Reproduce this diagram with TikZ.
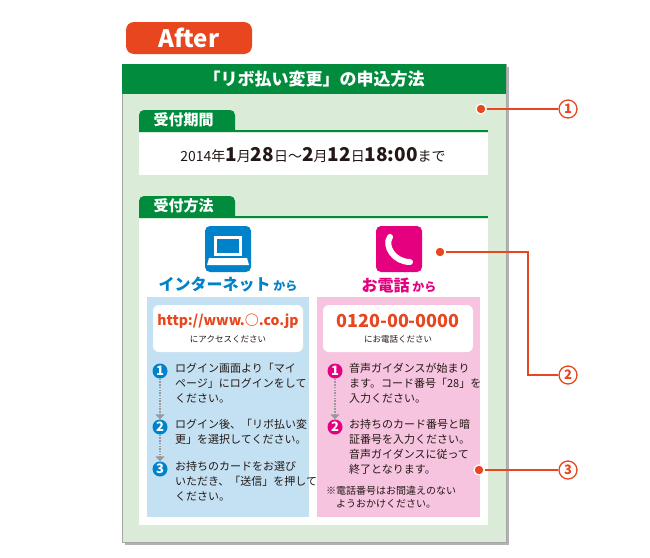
\documentclass[tikz,border=0pt]{standalone}
\usepackage{fontspec}
\setmainfont{Noto Sans CJK JP}
\newfontfamily\jpb{Noto Sans CJK JP Black}
\usetikzlibrary{arrows.meta}
\definecolor{grn}{HTML}{008C3C}
\definecolor{lgrn}{HTML}{DAEBD8}
\definecolor{ored}{HTML}{E8461E}
\definecolor{blu}{HTML}{0082CA}
\definecolor{lblu}{HTML}{C4E1F3}
\definecolor{mag}{HTML}{E4007F}
\definecolor{lpink}{HTML}{F7C4DF}
\definecolor{txt}{HTML}{231815}
\begin{document}
\begin{tikzpicture}[x=1pt,y=-1pt,
  tab/.style={fill=grn,rounded corners=5pt},
  stepnum/.style={circle,inner sep=0pt,minimum size=15pt,text=white,font=\jpb\fontsize{13}{13}\selectfont},
  steptxt/.style={anchor=north west,align=left,text=txt,font=\fontsize{11}{15}\selectfont,inner sep=0pt},
  callout/.style={circle,draw=ored,line width=1.3pt,inner sep=0pt,minimum size=18pt,text=ored,font=\jpb\fontsize{13}{13}\selectfont},
  dotm/.style={circle,fill=ored,draw=white,line width=1.2pt,inner sep=0pt,minimum size=10pt},
  lead/.style={draw=ored,line width=1.5pt},
  flow/.style={draw=gray!80,line width=2.5pt,dash pattern=on 1.5pt off 1.2pt,-{Triangle[length=5pt,width=9pt]}}]
\useasboundingbox (0,0) rectangle (650,557);
% After badge
\node[fill=ored,rounded corners=8pt,minimum width=126pt,minimum height=32pt,text=white,font=\jpb\fontsize{24}{24}\selectfont] (after) at (189,38) {After};
% panel
\fill[gray!60] (125,67) rectangle (509,545);
\draw[gray!70,fill=lgrn] (122,64) rectangle (506,542);
\fill[grn] (122,64) rectangle (506,94);
\node[text=white,font=\jpb\fontsize{17}{17}\selectfont] (title) at (314,79) {「リボ払い変更」の申込方法};
% period
\fill[tab] (139,110) rectangle (235,140);
\fill[lgrn] (137,131) rectangle (240,145);
\node[text=white,font=\jpb\fontsize{15}{15}\selectfont,anchor=west] (t1) at (150,120) {受付期間};
\fill[grn] (139,130) rectangle (488,132);
\fill[white] (139,133) rectangle (488,175);
\node[text=txt,font=\fontsize{14}{14}\selectfont] (period) at (313,155) {2014年{\jpb\fontsize{19}{19}\selectfont 1}月{\jpb\fontsize{19}{19}\selectfont 28}日～{\jpb\fontsize{19}{19}\selectfont 2}月{\jpb\fontsize{19}{19}\selectfont 12}日{\jpb\fontsize{19}{19}\selectfont 18:00}まで};
% method
\fill[tab] (139,196) rectangle (235,226);
\fill[lgrn] (137,217) rectangle (240,230);
\node[text=white,font=\jpb\fontsize{15}{15}\selectfont,anchor=west] (t2) at (150,206) {受付方法};
\fill[grn] (139,216) rectangle (488,218);
\fill[white] (139,219) rectangle (488,525);
% icons
\node[fill=blu,rounded corners=5pt,minimum size=46pt] (pc) at (228,249) {};
\fill[white] (214,236) rectangle (242,256);
\fill[blu] (217,239) rectangle (239,253);
\fill[white] (209,258) -- (247,258) -- (249,265) -- (207,265) -- cycle;
\node[fill=mag,rounded corners=5pt,minimum size=46pt] (tel) at (399,249) {};
\draw[white,line width=6pt,line cap=round] (390,237) .. controls (384,246) and (394,262) .. (410,262);
% headings
\node[text=blu,font=\jpb\fontsize{16}{16}\selectfont] (net) at (228,285) {インターネット{\fontsize{12}{12}\selectfont\ から}};
\node[text=mag,font=\jpb\fontsize{16}{16}\selectfont] (phn) at (399,285) {お電話{\fontsize{12}{12}\selectfont\ から}};
% boxes
\fill[lblu] (147,297) rectangle (309,517);
\fill[lpink] (317,297) rectangle (480,517);
\fill[white,rounded corners=6pt] (153,305) rectangle (303,352);
\fill[white,rounded corners=6pt] (323,305) rectangle (473,352);
\node[text=ored,font=\jpb\fontsize{14}{14}\selectfont] (url) at (228,321) {http://www.○.co.jp};
\node[text=txt,font=\fontsize{8.5}{8.5}\selectfont] (urla) at (228,339) {にアクセスください};
\node[text=ored,font=\jpb\fontsize{18}{18}\selectfont] (num) at (398,321) {0120-00-0000};
\node[text=txt,font=\fontsize{8.5}{8.5}\selectfont] (numa) at (398,339) {にお電話ください};
% internet steps
\node[stepnum,fill=blu] (n1) at (160,371) {1};
\node[stepnum,fill=blu] (n2) at (160,427) {2};
\node[stepnum,fill=blu] (n3) at (160,469) {3};
\draw[flow] (n1) -- (n2);
\draw[flow] (n2) -- (n3);
\node[steptxt] (s1) at (175,363) {ログイン画面より「マイ\\ページ」にログインをして\\ください。};
\node[steptxt] (s2) at (175,419) {ログイン後、「リボ払い変\\更」を選択してください。};
\node[steptxt] (s3) at (175,461) {お持ちのカードをお選び\\いただき、「送信」を押して\\ください。};
% phone steps
\node[stepnum,fill=mag] (p1) at (335,371) {1};
\node[stepnum,fill=mag] (p2) at (335,427) {2};
\draw[flow] (p1) -- (p2);
\node[steptxt] (q1) at (349,363) {音声ガイダンスが始まり\\ます。コード番号「28」を\\入力ください。};
\node[steptxt] (q2) at (349,419) {お持ちのカード番号と暗\\証番号を入力ください。\\音声ガイダンスに従って\\終了となります。};
\node[steptxt,font=\fontsize{10}{13}\selectfont] (note) at (326,486) {※電話番号はお間違えのない\\\hspace{1em}ようおかけください。};
% callouts
\node[callout] (c1) at (568,109) {1};
\node[callout] (c2) at (568,375) {2};
\node[callout] (c3) at (568,470) {3};
\coordinate (k) at (528,252);
\coordinate (k2) at (528,375);
\node[dotm] (d1) at (481,109) {};
\node[dotm] (d2) at (440,252) {};
\node[dotm] (d3) at (479,470) {};
\draw[lead] (d1) -- (c1);
\draw[lead] (d2) -- (k) -- (k2) -- (c2);
\draw[lead] (d3) -- (c3);
\end{tikzpicture}
\end{document}
